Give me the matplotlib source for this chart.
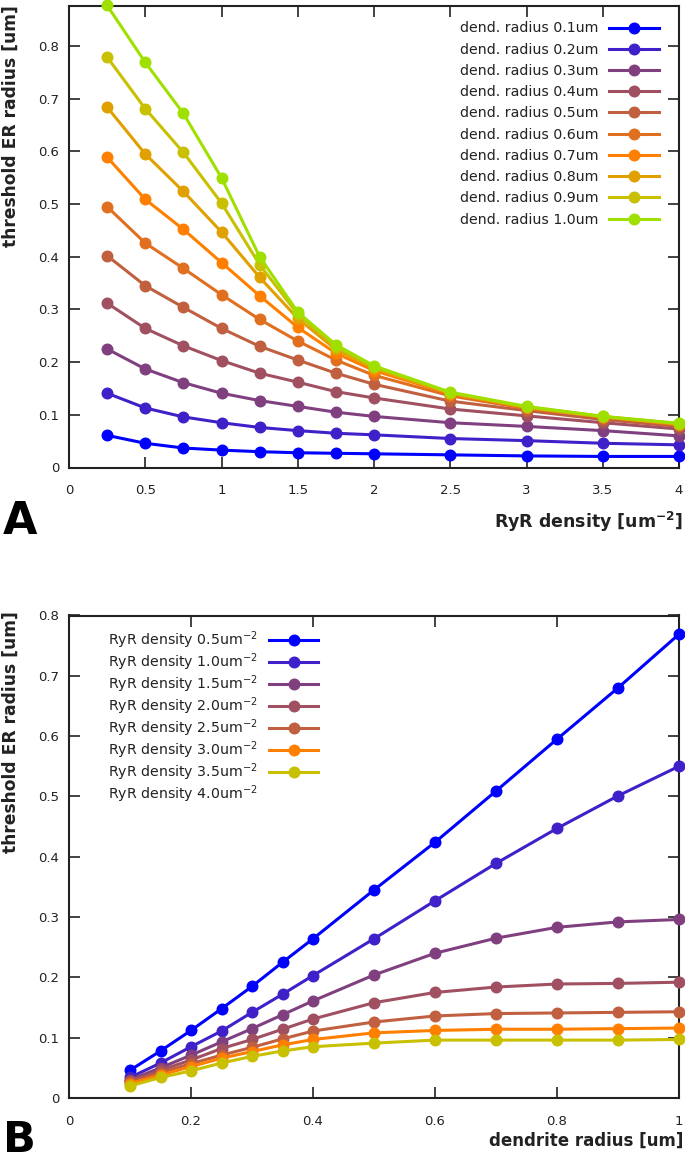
import matplotlib
matplotlib.use("Agg")
import matplotlib.pyplot as plt
from matplotlib.lines import Line2D

plt.rcParams['font.family'] = ['DejaVu Sans']
plt.rcParams['mathtext.fontset'] = 'dejavusans'

# ---------------- Panel A data ----------------
density_A = [0.25, 0.5, 0.75, 1.0, 1.25, 1.5, 1.75, 2.0, 2.5, 3.0, 3.5, 4.0]
radius_labels_A = ["0.1", "0.2", "0.3", "0.4", "0.5", "0.6", "0.7", "0.8", "0.9", "1.0"]
r01 = [0.061, 0.046, 0.037, 0.033, 0.030, 0.028, 0.027, 0.026, 0.024, 0.022, 0.021, 0.021]
r02 = [0.141, 0.113, 0.096, 0.085, 0.076, 0.070, 0.065, 0.062, 0.055, 0.051, 0.046, 0.043]
r03 = [0.225, 0.187, 0.161, 0.141, 0.127, 0.116, 0.105, 0.097, 0.085, 0.078, 0.070, 0.060]
r04 = [0.312, 0.264, 0.231, 0.203, 0.179, 0.162, 0.144, 0.132, 0.111, 0.098, 0.085, 0.073]
r05 = [0.402, 0.345, 0.304, 0.264, 0.230, 0.204, 0.179, 0.158, 0.126, 0.108, 0.091, 0.078]
r06 = [0.495, 0.426, 0.378, 0.328, 0.281, 0.240, 0.204, 0.175, 0.136, 0.112, 0.096, 0.081]
r07 = [0.589, 0.509, 0.452, 0.389, 0.326, 0.266, 0.217, 0.184, 0.140, 0.114, 0.096, 0.082]
r08 = [0.684, 0.595, 0.524, 0.447, 0.361, 0.283, 0.224, 0.189, 0.141, 0.114, 0.096, 0.083]
r09 = [0.779, 0.681, 0.598, 0.502, 0.385, 0.291, 0.229, 0.190, 0.142, 0.115, 0.097, 0.083]
r10 = [0.877, 0.769, 0.672, 0.550, 0.400, 0.295, 0.233, 0.193, 0.143, 0.116, 0.097, 0.084]
series_A = [r01, r02, r03, r04, r05, r06, r07, r08, r09, r10]
colors_A = ["#0000ff", "#4020c8", "#804080", "#a05060", "#c06040",
            "#e07020", "#ff8000", "#e0a000", "#c8c000", "#a0e000"]

# ---------------- Panel B data ----------------
radius_B = [0.1, 0.15, 0.2, 0.25, 0.3, 0.35, 0.4, 0.5, 0.6, 0.7, 0.8, 0.9, 1.0]
density_labels_B = ["0.5", "1.0", "1.5", "2.0", "2.5", "3.0", "3.5", "4.0"]
d05 = [0.046, 0.078, 0.112, 0.148, 0.185, 0.225, 0.264, 0.345, 0.424, 0.509, 0.595, 0.680, 0.769]
d10 = [0.034, 0.058, 0.085, 0.111, 0.142, 0.172, 0.203, 0.264, 0.327, 0.389, 0.447, 0.501, 0.550]
d15 = [0.030, 0.050, 0.071, 0.093, 0.115, 0.138, 0.161, 0.204, 0.240, 0.265, 0.283, 0.292, 0.296]
d20 = [0.028, 0.046, 0.063, 0.082, 0.097, 0.114, 0.131, 0.158, 0.175, 0.184, 0.189, 0.190, 0.192]
d25 = [0.026, 0.042, 0.057, 0.071, 0.084, 0.098, 0.111, 0.126, 0.136, 0.140, 0.141, 0.142, 0.143]
d30 = [0.024, 0.038, 0.052, 0.066, 0.077, 0.088, 0.097, 0.108, 0.112, 0.114, 0.114, 0.115, 0.116]
d35 = [0.020, 0.034, 0.045, 0.058, 0.069, 0.078, 0.085, 0.091, 0.096, 0.096, 0.096, 0.096, 0.097]
series_B = [d05, d10, d15, d20, d25, d30, d35]
colors_B = ["#0000ff", "#4020c8", "#804080", "#a05060", "#c06040", "#ff8000", "#c8c000"]

xticks_A = [0, 0.5, 1, 1.5, 2, 2.5, 3, 3.5, 4]
xticklabels_A = ["0", "0.5", "1", "1.5", "2", "2.5", "3", "3.5", "4"]
yticks = [0, 0.1, 0.2, 0.3, 0.4, 0.5, 0.6, 0.7, 0.8]
yticklabels = ["0", "0.1", "0.2", "0.3", "0.4", "0.5", "0.6", "0.7", "0.8"]
xticks_B = [0, 0.2, 0.4, 0.6, 0.8, 1.0]
xticklabels_B = ["0", "0.2", "0.4", "0.6", "0.8", "1"]

W, H = 685, 1163
fig = plt.figure(figsize=(W / 100, H / 100), dpi=100)

def px_axes(l, t, r, b):
    return fig.add_axes([l / W, 1 - b / H, (r - l) / W, (b - t) / H])

LW = 2.2
MS = 7.6
TXT = "#222222"
LFS = 10.2

def style(ax, xpad):
    for s in ax.spines.values():
        s.set_linewidth(1.5)
        s.set_color("#222222")
    ax.tick_params(direction="in", length=8, width=1.2, top=True, right=True,
                   labelsize=9.5, colors="#222222", labelcolor=TXT)
    ax.tick_params(axis="y", pad=7)
    ax.tick_params(axis="x", pad=xpad)

# Panel A
axA = px_axes(69, 6, 679, 467.5)
for lab, ys, c in zip(radius_labels_A, series_A, colors_A):
    axA.plot(density_A, ys, "-o", color=c, lw=LW, ms=MS, mec=c,
             label="dend. radius %sum" % lab, clip_on=False, zorder=3)
axA.set_xlim(0, 4)
axA.set_ylim(0, 0.876)
axA.set_xticks(xticks_A)
axA.set_xticklabels(xticklabels_A)
axA.set_yticks(yticks)
axA.set_yticklabels(yticklabels)
style(axA, 12)
legA = axA.legend(loc="upper right", bbox_to_anchor=(659 / W, 1 - 21.5 / H),
                  bbox_transform=fig.transFigure, frameon=False, markerfirst=False,
                  fontsize=LFS, handlelength=3.5, handletextpad=0.8,
                  labelspacing=0.51, borderpad=0, borderaxespad=0)
for t in legA.get_texts():
    t.set_color(TXT)

# Panel B
axB = px_axes(69, 615.5, 679, 1098)
for lab, ys, c in zip(density_labels_B, series_B, colors_B):
    axB.plot(radius_B, ys, "-o", color=c, lw=LW, ms=MS, mec=c,
             label="RyR density %sum$^{-2}$" % lab, clip_on=False, zorder=3)
axB.set_xlim(0, 1)
axB.set_ylim(0, 0.8)
axB.set_xticks(xticks_B)
axB.set_xticklabels(xticklabels_B)
axB.set_yticks(yticks)
axB.set_yticklabels(yticklabels)
style(axB, 12)
handles, labels = axB.get_legend_handles_labels()
handles.append(Line2D([], [], linestyle="none", marker=None))
labels.append("RyR density %sum$^{-2}$" % density_labels_B[-1])
legB = axB.legend(handles, labels, loc="upper left",
                  bbox_to_anchor=(108 / W, 1 - 629 / H),
                  bbox_transform=fig.transFigure, frameon=False, markerfirst=False,
                  fontsize=LFS, handlelength=3.5, handletextpad=0.8,
                  labelspacing=0.03, borderpad=0, borderaxespad=0)
for t in legB.get_texts():
    t.set_color(TXT)

# Axis labels and panel letters
fig.text(11 / W, 1 - 126 / H, "threshold ER radius [um]", rotation=90,
         ha="center", va="center", fontsize=12.3, fontweight="bold", color=TXT)
fig.text(11 / W, 1 - 732 / H, "threshold ER radius [um]", rotation=90,
         ha="center", va="center", fontsize=12.3, fontweight="bold", color=TXT)
fig.text(683 / W, 1 - 522 / H, r"RyR density [um$^{\mathbf{-2}}$]",
         ha="right", va="center", fontsize=12.5, fontweight="bold", color=TXT)
fig.text(683 / W, 1 - 1141 / H, "dendrite radius [um]",
         ha="right", va="center", fontsize=12, fontweight="bold", color=TXT)
fig.text(3 / W, 1 - 534 / H, "A", ha="left", va="baseline",
         fontsize=32, fontweight="bold", color="black")
fig.text(3 / W, 1 - 1152 / H, "B", ha="left", va="baseline",
         fontsize=31, fontweight="bold", color="black")

fig.savefig("out.png", dpi=100)
